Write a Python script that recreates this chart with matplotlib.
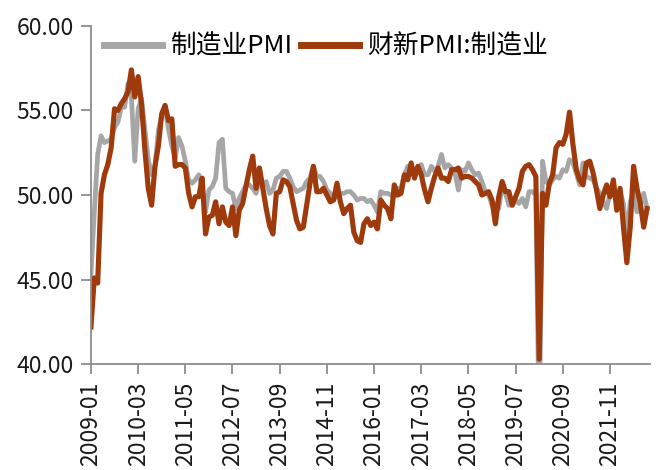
import matplotlib
matplotlib.use("Agg")
import matplotlib.pyplot as plt
import pandas as pd

plt.rcParams['font.family'] = ['Noto Sans CJK SC', 'DejaVu Sans']

# monthly, 2009-01 .. 2022-10
official_pmi = [
    45.3, 49.0, 52.4, 53.5, 53.1, 53.2, 53.3, 54.0, 54.3, 55.2, 55.2, 56.6,
    55.8, 52.0, 55.1, 55.7, 53.9, 52.1, 51.2, 51.7, 53.8, 54.7, 55.2, 53.9,
    52.9, 52.2, 53.4, 52.9, 52.0, 50.9, 50.7, 50.9, 51.2, 50.4, 49.0, 50.3,
    50.5, 51.0, 53.1, 53.3, 50.4, 50.2, 50.1, 49.2, 49.8, 50.2, 50.6, 50.6,
    50.4, 50.1, 50.9, 50.6, 50.8, 50.1, 50.3, 51.0, 51.1, 51.4, 51.4, 51.0,
    50.5, 50.2, 50.3, 50.4, 50.8, 51.0, 51.7, 51.1, 51.1, 50.8, 50.3, 50.1,
    49.8, 49.9, 50.1, 50.1, 50.2, 50.2, 50.0, 49.7, 49.8, 49.8, 49.6, 49.7,
    49.4, 49.0, 50.2, 50.1, 50.1, 50.0, 49.9, 50.4, 50.4, 51.2, 51.7, 51.4,
    51.3, 51.6, 51.8, 51.2, 51.2, 51.7, 51.4, 51.7, 52.4, 51.6, 51.8, 51.6,
    51.3, 50.3, 51.5, 51.4, 51.9, 51.5, 51.2, 51.3, 50.8, 50.2, 50.0, 49.4,
    49.5, 49.2, 50.5, 50.1, 49.4, 49.4, 49.7, 49.5, 49.8, 49.3, 50.2, 50.2,
    50.0, 35.7, 52.0, 50.8, 50.6, 50.9, 51.1, 51.0, 51.5, 51.4, 52.1, 51.9,
    51.3, 50.6, 51.9, 51.1, 51.0, 50.9, 50.4, 50.1, 49.6, 49.2, 50.1, 50.3,
    50.1, 50.2, 49.5, 47.4, 49.6, 50.2, 49.0, 49.4, 50.1, 49.2,
]
caixin_pmi = [
    42.2, 45.1, 44.8, 50.1, 51.2, 51.8, 52.8, 55.1, 55.0, 55.4, 55.7, 56.1,
    57.4, 55.8, 57.0, 55.4, 52.7, 50.4, 49.4, 51.7, 52.9, 54.8, 55.3, 54.4,
    54.5, 51.7, 51.8, 51.8, 51.6, 50.1, 49.3, 49.9, 49.9, 51.0, 47.7, 48.7,
    48.8, 49.6, 48.3, 49.3, 48.4, 48.2, 49.3, 47.6, 49.1, 49.5, 50.5, 51.5,
    52.3, 50.4, 51.6, 50.4, 49.2, 48.2, 47.7, 50.1, 50.2, 50.9, 50.8, 50.5,
    49.5, 48.5, 48.0, 48.1, 49.4, 50.7, 51.7, 50.2, 50.2, 50.4, 50.0, 49.6,
    49.7, 50.7, 49.6, 48.9, 49.2, 49.4, 47.8, 47.3, 47.2, 48.3, 48.6, 48.2,
    48.4, 48.0, 49.7, 49.4, 49.2, 48.6, 50.6, 50.0, 50.1, 51.2, 50.9, 51.9,
    51.0, 51.7, 51.2, 50.3, 49.6, 50.4, 51.1, 51.6, 51.0, 51.0, 50.8, 51.5,
    51.5, 51.6, 51.0, 51.1, 51.1, 51.0, 50.8, 50.6, 50.0, 50.1, 50.2, 49.7,
    48.3, 49.9, 50.8, 50.2, 50.2, 49.4, 49.9, 50.4, 51.4, 51.7, 51.8, 51.5,
    51.1, 40.3, 50.1, 49.4, 50.7, 51.2, 52.8, 53.1, 53.0, 53.6, 54.9, 53.0,
    51.5, 50.9, 50.6, 51.9, 52.0, 51.3, 50.3, 49.2, 50.0, 50.6, 49.9, 50.9,
    49.1, 50.4, 48.1, 46.0, 48.1, 51.7, 50.4, 49.5, 48.1, 49.2,
]
months = pd.period_range("2009-01", periods=len(official_pmi), freq="M").strftime("%Y-%m").tolist()
series_names = ["制造业PMI", "财新PMI:制造业"]

fig = plt.figure(figsize=(6.59, 4.70), dpi=100)
ax = fig.add_axes([0.138, 0.225, 0.849, 0.720])

x = list(range(len(months)))
ax.plot(x, official_pmi, color="#a6a6a6", lw=3.4, solid_joinstyle="round", label=series_names[0])
ax.plot(x, caixin_pmi, color="#9e3a0c", lw=3.7, solid_joinstyle="round", label=series_names[1])

ax.set_ylim(40, 60)
ax.set_yticks([40, 45, 50, 55, 60])
ax.set_yticklabels(["%.2f" % v for v in [40, 45, 50, 55, 60]])
ax.set_xlim(0, len(months))
ticks = list(range(0, len(months), 14))
ax.set_xticks(ticks)
ax.set_xticklabels([months[i] for i in ticks], rotation=90)

for s in ["top", "right"]:
    ax.spines[s].set_visible(False)
for s in ["left", "bottom"]:
    ax.spines[s].set_color("#8c8c8c")
    ax.spines[s].set_linewidth(1.3)
ax.tick_params(axis="both", colors="#8c8c8c", labelcolor="#1a1a1a",
               length=7.5, width=1.3, labelsize=16.5, pad=5)

leg = fig.legend(loc="center left", bbox_to_anchor=(0.158, 0.901), ncol=2, frameon=False,
                 fontsize=18.5, handlelength=2.25, handletextpad=0.35, columnspacing=0.3,
                 borderpad=0, borderaxespad=0)
for h in leg.legend_handles:
    h.set_linewidth(5)

fig.savefig("out.png", dpi=100)
